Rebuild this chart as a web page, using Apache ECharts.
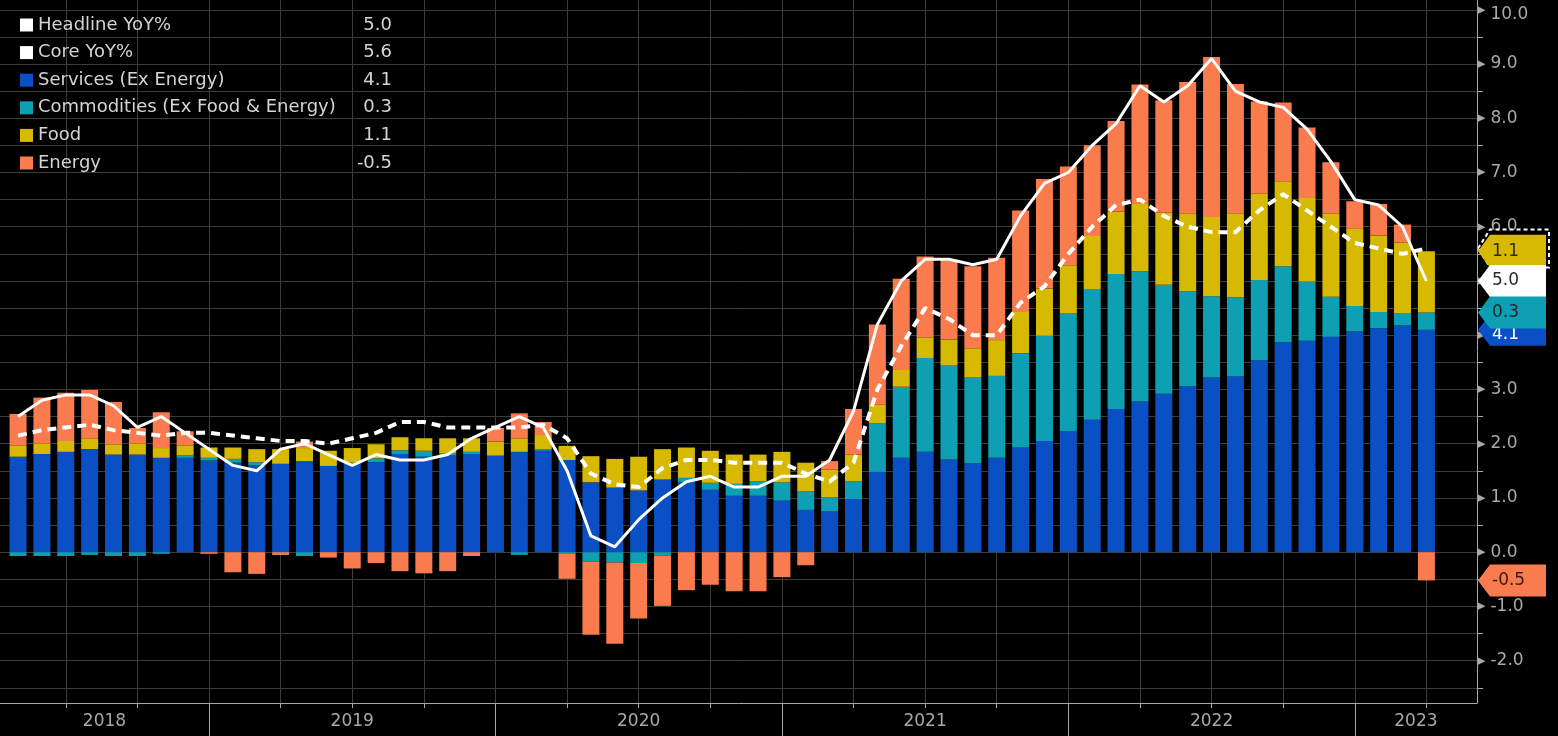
<!DOCTYPE html>
<html>
<head>
<meta charset="utf-8">
<script src="https://cdn.jsdelivr.net/npm/echarts@6/dist/echarts.min.js"></script>
<style>
html,body{margin:0;padding:0;background:#000;}
#chart{width:1558px;height:736px;}
</style>
</head>
<body>
<div id="chart"></div>
<script>
// ---------------- DATA ----------------
const months = [
  '2018-04','2018-05','2018-06','2018-07','2018-08','2018-09','2018-10','2018-11','2018-12',
  '2019-01','2019-02','2019-03','2019-04','2019-05','2019-06','2019-07','2019-08','2019-09','2019-10','2019-11','2019-12',
  '2020-01','2020-02','2020-03','2020-04','2020-05','2020-06','2020-07','2020-08','2020-09','2020-10','2020-11','2020-12',
  '2021-01','2021-02','2021-03','2021-04','2021-05','2021-06','2021-07','2021-08','2021-09','2021-10','2021-11','2021-12',
  '2022-01','2022-02','2022-03','2022-04','2022-05','2022-06','2022-07','2022-08','2022-09','2022-10','2022-11','2022-12',
  '2023-01','2023-02','2023-03'
];
const services = [
  1.76,1.81,1.85,1.90,1.80,1.80,1.74,1.74,1.69,
  1.65,1.60,1.63,1.68,1.59,1.65,1.66,1.81,1.76,1.79,1.81,1.78,
  1.85,1.87,1.70,1.29,1.19,1.14,1.34,1.29,1.15,1.04,1.04,0.95,
  0.78,0.75,0.98,1.48,1.74,1.85,1.71,1.64,1.74,1.93,2.05,2.23,
  2.44,2.64,2.78,2.92,3.06,3.22,3.24,3.54,3.87,3.90,3.97,4.07,
  4.13,4.18,4.10
];
const commodities = [
  -0.07,-0.07,-0.07,-0.05,-0.07,-0.07,-0.03,0.05,0.05,
  0.07,0.06,0.00,-0.07,0.00,0.00,0.07,0.07,0.11,0.03,0.04,0.00,
  -0.05,0.03,-0.02,-0.17,-0.19,-0.20,-0.06,0.08,0.13,0.22,0.27,0.34,
  0.34,0.26,0.33,0.90,1.31,1.73,1.74,1.58,1.51,1.74,1.94,2.17,
  2.41,2.49,2.40,2.01,1.75,1.50,1.46,1.48,1.40,1.09,0.74,0.47,
  0.30,0.23,0.32
];
const food = [
  0.21,0.19,0.20,0.20,0.19,0.20,0.18,0.18,0.19,
  0.21,0.24,0.27,0.24,0.28,0.27,0.26,0.24,0.23,0.28,0.25,0.26,
  0.25,0.26,0.26,0.48,0.53,0.62,0.56,0.56,0.59,0.54,0.49,0.56,
  0.53,0.51,0.49,0.34,0.31,0.38,0.47,0.54,0.66,0.76,0.87,0.89,
  0.98,1.15,1.24,1.33,1.44,1.46,1.55,1.59,1.57,1.54,1.53,1.43,
  1.41,1.30,1.13
];
const energy = [
  0.58,0.85,0.89,0.89,0.78,0.29,0.66,0.26,-0.03,
  -0.37,-0.40,-0.05,0.12,-0.10,-0.30,-0.20,-0.35,-0.39,-0.35,-0.07,0.25,
  0.46,0.24,-0.47,-1.35,-1.50,-1.02,-0.93,-0.70,-0.60,-0.72,-0.72,-0.46,
  -0.24,0.16,0.84,1.48,1.68,1.49,1.47,1.51,1.52,1.87,2.02,1.82,
  1.67,1.67,2.20,2.07,2.42,2.95,2.38,1.70,1.45,1.30,0.95,0.50,
  0.58,0.33,-0.52
];
const headline = [
  2.5,2.8,2.9,2.9,2.7,2.3,2.5,2.2,1.9,
  1.6,1.5,1.9,2.0,1.8,1.6,1.8,1.7,1.7,1.8,2.1,2.3,
  2.5,2.3,1.5,0.3,0.1,0.6,1.0,1.3,1.4,1.2,1.2,1.4,
  1.4,1.7,2.6,4.2,5.0,5.4,5.4,5.3,5.4,6.2,6.8,7.0,
  7.5,7.9,8.6,8.3,8.6,9.1,8.5,8.3,8.2,7.8,7.2,6.5,
  6.4,6.0,5.0
];
const core = [
  2.15,2.25,2.3,2.35,2.25,2.2,2.15,2.2,2.2,
  2.15,2.1,2.05,2.05,2.0,2.1,2.2,2.4,2.4,2.3,2.3,2.3,
  2.3,2.35,2.1,1.45,1.25,1.2,1.55,1.7,1.7,1.65,1.65,1.65,
  1.45,1.3,1.65,3.0,3.8,4.5,4.3,4.0,4.0,4.6,4.9,5.5,
  6.0,6.4,6.5,6.2,6.0,5.9,5.9,6.3,6.6,6.3,6.0,5.7,
  5.6,5.5,5.6
];
const seriesNames = ['Headline YoY%','Core YoY%','Services (Ex Energy)','Commodities (Ex Food & Energy)','Food','Energy'];
const yTickLabels = [-2,-1,0,1,2,3,4,5,6,7,8,9,10];
const yearLabels = ['2018','2019','2020','2021','2022','2023'];

// ---------------- LAYOUT / STYLE ----------------
const BASE_YEAR = 2018;
const XMIN = 3.244, XMAX = 65.12;   // axis extent in months since Jan 2018
const YMIN = -2.78, YMAX = 10.18;
const C = {
  services: '#0b4fc4', commodities: '#0e9fb3', food: '#d6b900', energy: '#f97b4e',
  grid: '#3c3c3c', axis: '#a8a8a8', text: '#d4d4d4'
};
const FONT = '"DejaVu Sans", "Liberation Sans", sans-serif';

const monthX = months.map(m => { const p = m.split('-').map(Number); return (p[0] - BASE_YEAR) * 12 + p[1]; });
const toPairs = arr => monthX.map((x, i) => [x, arr[i]]);
// value first, month second (so the stack works on the value dimension)
const toBarPairs = arr => monthX.map((x, i) => [arr[i], x]);

const quarterTicks = [];
for (let v = Math.ceil(XMIN / 3) * 3; v <= XMAX; v += 3) quarterTicks.push(v);
const yearBounds = yearLabels.slice(1).map(y => (Number(y) - BASE_YEAR) * 12);
const yearLabelPos = yearLabels.map(y => {
  const s = Math.max(XMIN, (Number(y) - BASE_YEAR) * 12);
  const e = Math.min(XMAX, (Number(y) - BASE_YEAR) * 12 + 12);
  return (s + e) / 2;
});
const halfTicks = [];
for (let v = -2.5; v <= 10.001; v += 0.5) halfTicks.push(Math.round(v * 10) / 10);

const last = months.length - 1;
const lastVals = {
  'Headline YoY%': headline[last], 'Core YoY%': core[last],
  'Services (Ex Energy)': services[last], 'Commodities (Ex Food & Energy)': commodities[last],
  'Food': food[last], 'Energy': energy[last]
};

// value tags on the right (order = drawing order)
const tagY = [
  core[last],
  services[last] + commodities[last] + food[last],
  headline[last],
  services[last],
  services[last] + commodities[last],
  energy[last]
];
const tagText = [
  '', food[last].toFixed(1), headline[last].toFixed(1), services[last].toFixed(1),
  commodities[last].toFixed(1), energy[last].toFixed(1)
];
const tagStyle = [
  { fill: '#000', stroke: '#fff', lineWidth: 2, dash: [4, 3], w: 71, h: 38 },
  { fill: C.food, color: '#2a2a2a', w: 68, h: 33 },
  { fill: '#ffffff', color: '#2a2a2a', w: 68, h: 32 },
  { fill: C.services, color: '#ffffff', w: 68, h: 32, dy: 5 },
  { fill: C.commodities, color: '#1d2a2c', w: 68, h: 32 },
  { fill: C.energy, color: '#3a1a0a', w: 68, h: 32 }
];

const chart = echarts.init(document.getElementById('chart'), null, { renderer: 'canvas' });

const barSeries = (name, arr, color) => ({
  name, type: 'bar', stack: 'cpi', xAxisIndex: 0, yAxisIndex: 0,
  encode: { x: 1, y: 0 },
  barWidth: 17, data: toBarPairs(arr), itemStyle: { color }, z: 2
});

chart.setOption({
  backgroundColor: '#000',
  animation: false,
  grid: { left: 0, right: 81, top: 0, bottom: 33, containLabel: false, outerBoundsMode: 'none' },
  legend: {
    orient: 'vertical', left: 20, top: 16, padding: 0, selectedMode: false,
    icon: 'rect', itemWidth: 13, itemHeight: 13, itemGap: 9.6,
    data: seriesNames,
    formatter: name => '{n|' + name + '}{v|' + lastVals[name].toFixed(1) + '}',
    textStyle: {
      color: C.text, fontFamily: FONT, fontSize: 18,
      rich: {
        n: { width: 323, fontSize: 18, color: C.text, fontFamily: FONT },
        v: { width: 31, align: 'right', fontSize: 18, color: C.text, fontFamily: FONT }
      }
    }
  },
  xAxis: [
    {
      type: 'value', min: XMIN, max: XMAX, position: 'bottom',
      axisLine: { show: true, onZero: false, lineStyle: { color: C.axis, width: 1 } },
      axisTick: { show: true, customValues: quarterTicks, length: 5, lineStyle: { color: C.axis } },
      axisLabel: { show: false },
      splitLine: { show: true, lineStyle: { color: C.grid, width: 1 } }
    },
    {
      type: 'value', min: XMIN, max: XMAX, position: 'bottom',
      axisLine: { show: false, onZero: false },
      axisTick: { show: true, customValues: yearBounds, length: 33, lineStyle: { color: C.axis } },
      axisLabel: {
        show: true, customValues: yearLabelPos, margin: 10,
        color: C.axis, fontSize: 17, fontFamily: FONT,
        formatter: v => String(BASE_YEAR + Math.floor(v / 12))
      },
      splitLine: { show: false }
    }
  ],
  yAxis: {
    type: 'value', min: YMIN, max: YMAX, position: 'right',
    axisLine: { show: true, onZero: false, lineStyle: { color: C.axis, width: 1 } },
    axisTick: { show: true, customValues: halfTicks, length: 6, lineStyle: { color: C.axis } },
    axisLabel: {
      show: true, customValues: yTickLabels, margin: 0,
      formatter: v => '{t|\u25B6}{' + (v === yTickLabels[yTickLabels.length - 1] ? 'top' : 'n') + '|' + Number(v).toFixed(1) + '}',
      rich: {
        t: { fontSize: 11, color: C.axis, fontFamily: 'DejaVu Sans', padding: [0, 5, 0, 0] },
        n: { fontSize: 17, color: C.axis, fontFamily: FONT },
        top: { fontSize: 17, color: C.axis, fontFamily: FONT, padding: [10, 0, 0, 0] }
      }
    },
    splitLine: { show: true, lineStyle: { color: C.grid, width: 1 } }
  },
  series: [
    barSeries('Services (Ex Energy)', services, C.services),
    barSeries('Commodities (Ex Food & Energy)', commodities, C.commodities),
    barSeries('Food', food, C.food),
    barSeries('Energy', energy, C.energy),
    {
      name: 'Headline YoY%', type: 'line', data: toPairs(headline), symbol: 'none',
      lineStyle: { color: '#fff', width: 3 }, itemStyle: { color: '#fff' }, z: 4
    },
    {
      name: 'Core YoY%', type: 'line', data: toPairs(core), symbol: 'none',
      lineStyle: { color: '#fff', width: 4, type: [9, 6] }, itemStyle: { color: '#fff' }, z: 4
    },
    {
      name: 'tags', type: 'custom', clip: false, z: 10, silent: true,
      encode: { x: 0, y: 1 },
      data: tagY.map((y, i) => [XMAX, y, i]),
      renderItem: function (params, api) {
        const i = api.value(2);
        const st = tagStyle[i];
        const p = api.coord([api.value(0), api.value(1)]);
        const x0 = p[0] + 1, yc = p[1], w = st.w, h = st.h, a = 12;
        const children = [{
          type: 'polygon', z2: i * 2,
          shape: { points: [[x0, yc], [x0 + a, yc - h / 2], [x0 + w, yc - h / 2], [x0 + w, yc + h / 2], [x0 + a, yc + h / 2]] },
          style: { fill: st.fill, stroke: st.stroke || null, lineWidth: st.lineWidth || 0, lineDash: st.dash || null }
        }];
        if (tagText[i]) {
          children.push({
            type: 'text', z2: i * 2 + 1, x: x0 + 14, y: yc + (st.dy || 0),
            style: { text: tagText[i], fill: st.color, font: '17px ' + FONT, align: 'left', verticalAlign: 'middle' }
          });
        }
        return { type: 'group', children };
      }
    }
  ]
});
</script>
</body>
</html>
